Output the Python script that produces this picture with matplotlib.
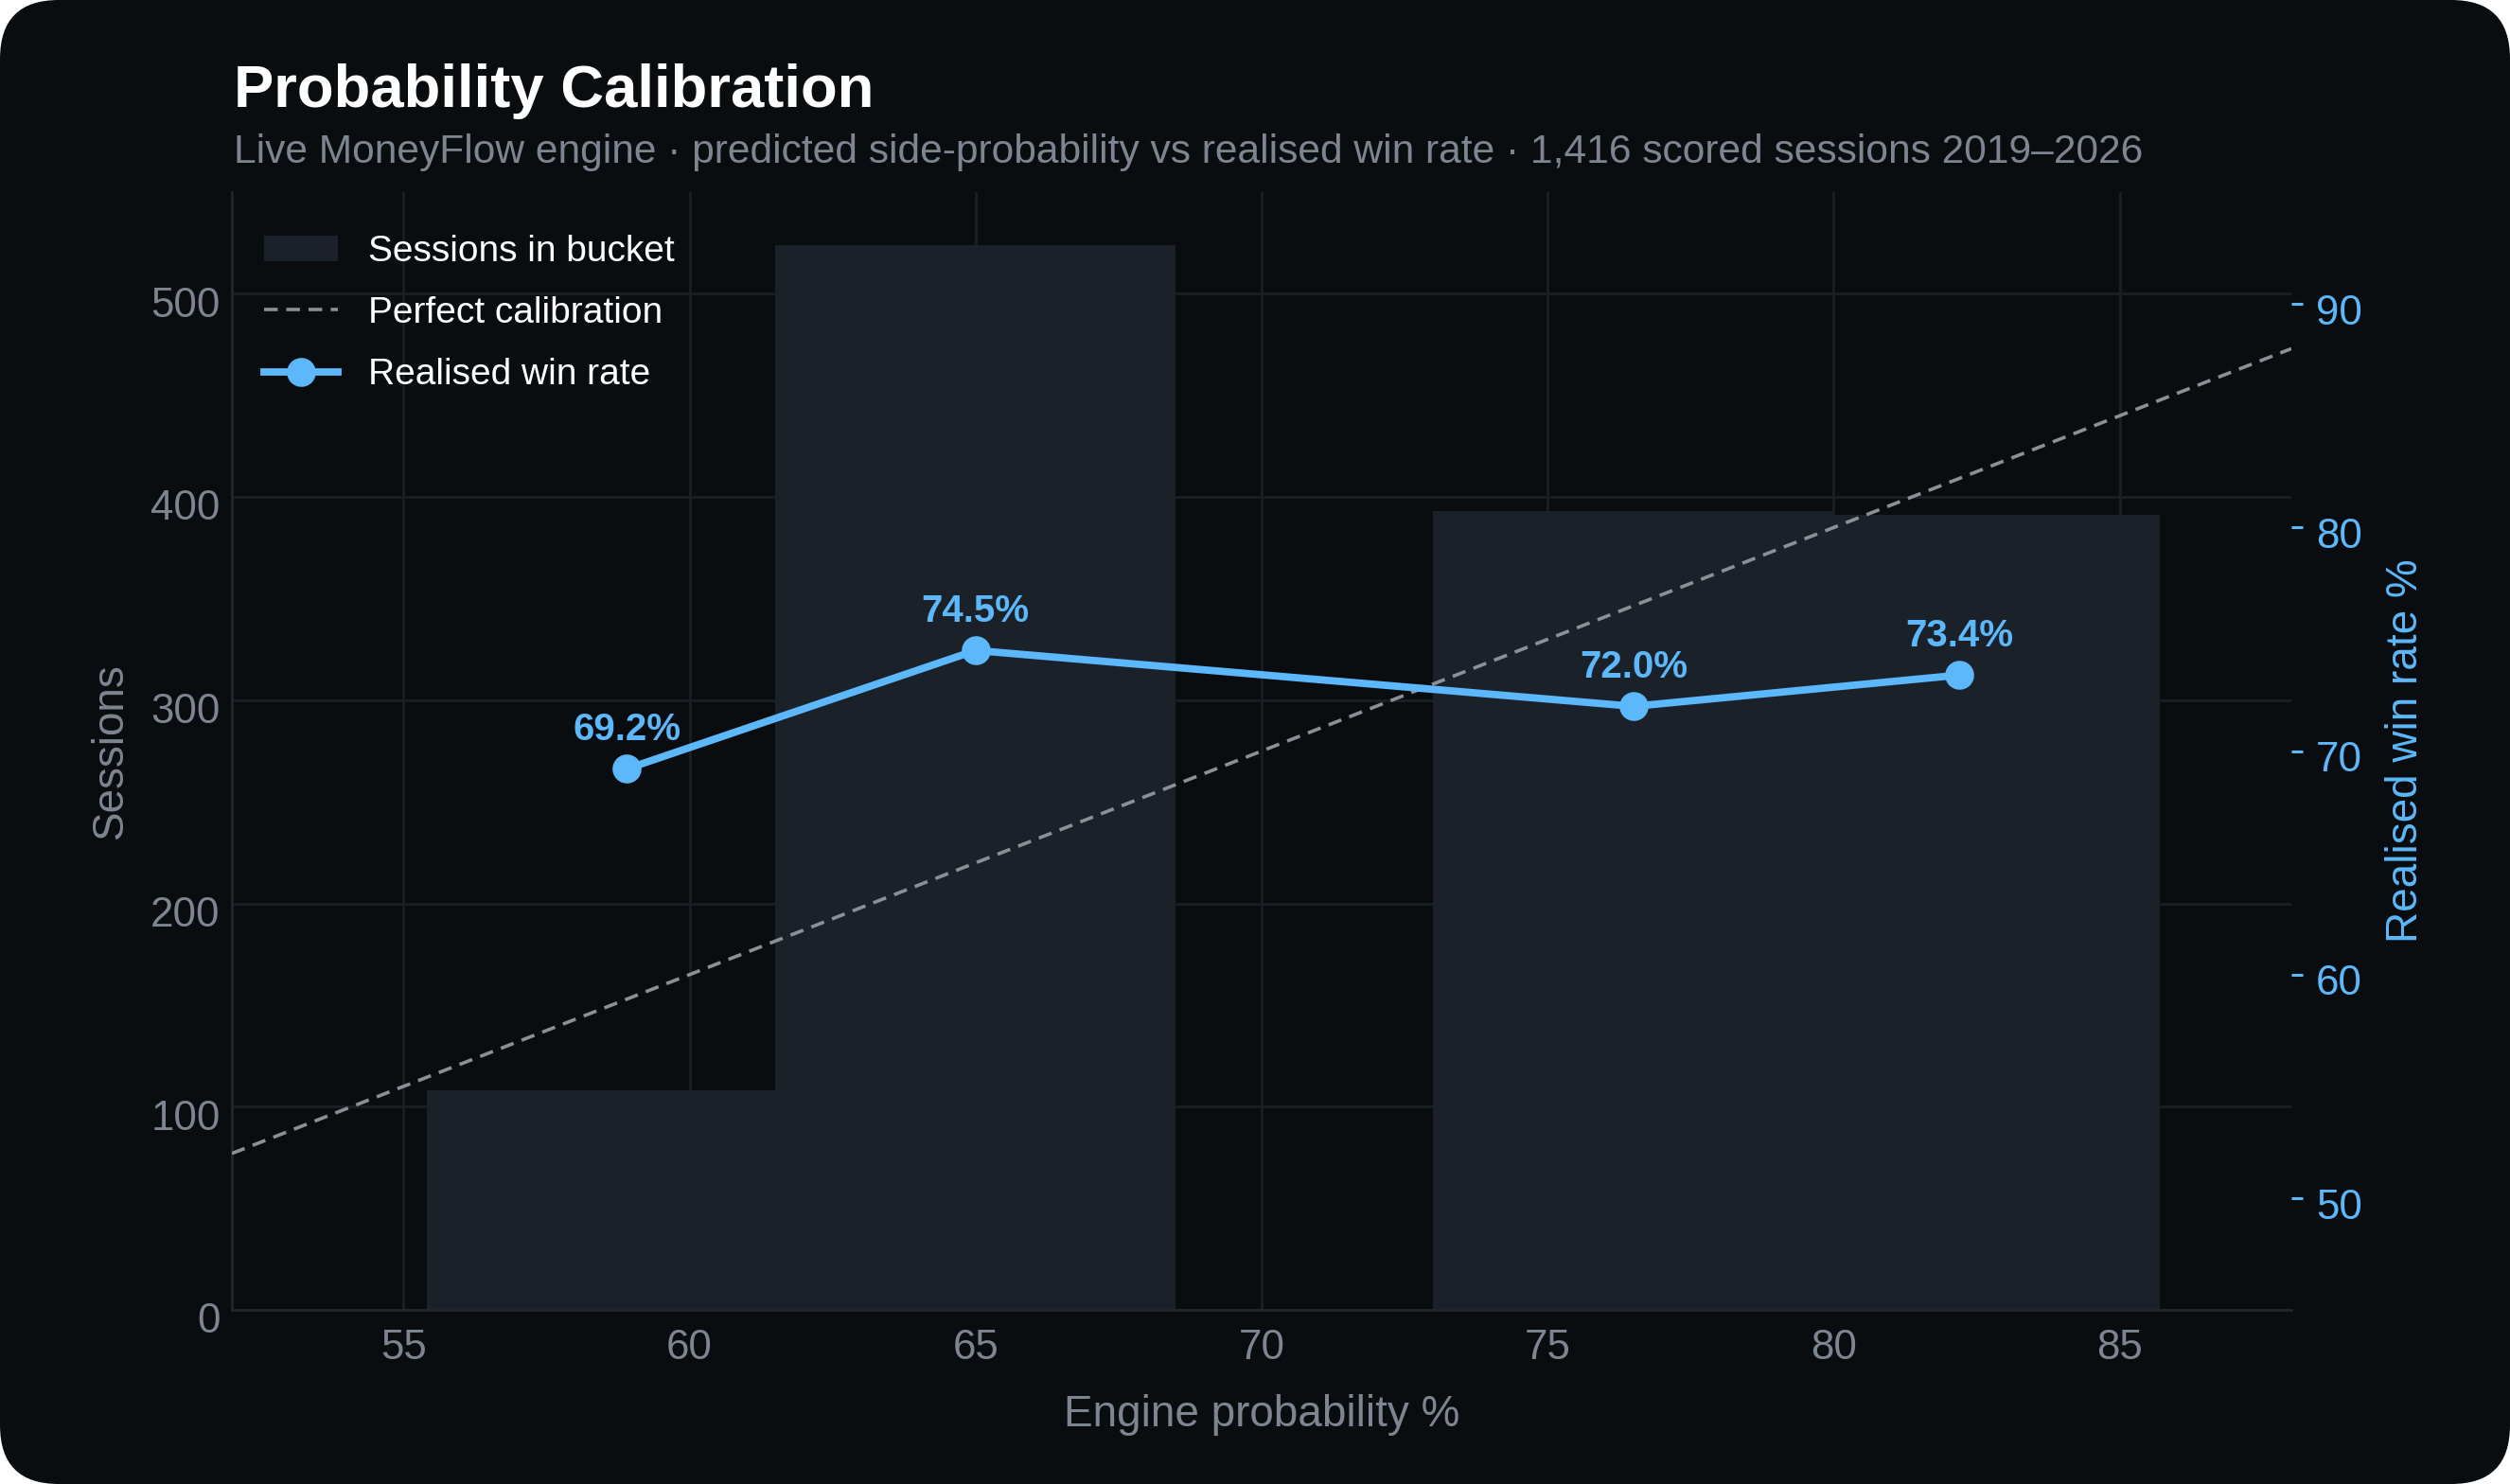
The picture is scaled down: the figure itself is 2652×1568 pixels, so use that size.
import matplotlib.pyplot as plt
from matplotlib.patches import FancyBboxPatch, Patch
from matplotlib.lines import Line2D
from matplotlib.transforms import IdentityTransform, ScaledTranslation

plt.rcParams['font.family'] = ['Liberation Sans', 'DejaVu Sans']

# bucket data (mean engine probability per bucket)
bucket_prob = [58.9, 65.0, 76.5, 82.2]
sessions = [108, 524, 393, 391]
win_rate = [69.2, 74.5, 72.0, 73.4]

x_ticks = [55, 60, 65, 70, 75, 80, 85]
left_ticks = [0, 100, 200, 300, 400, 500]
right_ticks = [50, 60, 70, 80, 90]

BG = '#0a0d10'
BAR = '#1b2129'
GRID = '#1a1f25'
SPINE = '#22272e'
MUTED = '#7d8590'
BLUE = '#5cb8fa'
DASH = '#8b9096'

fig = plt.figure(figsize=(13.26, 7.84), dpi=200, facecolor='white')
card = FancyBboxPatch((0, 0), 2652, 1568, boxstyle='round,pad=0,rounding_size=62',
                      transform=IdentityTransform(), facecolor=BG, edgecolor='none',
                      zorder=-10)
fig.patches.append(card)

ax = fig.add_axes([0.0924, 0.1173, 0.8205, 0.7532])
ax.set_facecolor(BG)
ax2 = ax.twinx()

# sessions per bucket
ax.bar(bucket_prob, sessions, width=7, color=BAR, zorder=2)
ax.set_axisbelow(True)
ax.grid(True, color=GRID, lw=1.0)
ax.set_xlim(52, 88)
ax.set_ylim(0, 550)
ax.set_xticks(x_ticks)
ax.set_yticks(left_ticks)
ax.tick_params(axis='both', length=0, colors=MUTED, labelsize=15.8)
ax.tick_params(axis='x', pad=7)
ax.tick_params(axis='y', pad=4.5)
for s in ['top', 'right']:
    ax.spines[s].set_visible(False)
for s in ['left', 'bottom']:
    ax.spines[s].set_color(SPINE)
    ax.spines[s].set_linewidth(1.0)

ax.set_xlabel('Engine probability %', fontsize=16.5, color=MUTED)
ax.xaxis.set_label_coords(0.5, -0.075)
ax.set_ylabel('Sessions', fontsize=16.5, color=MUTED)
ax.yaxis.set_label_coords(-0.0487, 0.5)

# calibration + realised win rate
ax2.plot([52, 88], [52, 88], color=DASH, lw=1.3, linestyle=(0, (4, 2.5)))
ax2.plot(bucket_prob, win_rate, color=BLUE, lw=2.8, marker='o', markersize=10)
for x, v in zip(bucket_prob, win_rate):
    ax2.annotate(f'{v:.1f}%', (x, v), xytext=(0, 11), textcoords='offset points',
                 ha='center', va='baseline', fontsize=14.5, fontweight='bold', color=BLUE)
ax2.set_ylim(45, 95)
ax2.set_yticks(right_ticks)
ax2.tick_params(axis='y', length=4.3, width=1.1, colors=BLUE, labelsize=15.8, pad=5)
for s in ax2.spines.values():
    s.set_visible(False)
ax2.set_ylabel('Realised win rate %', fontsize=16.5, color=BLUE)
ax2.yaxis.set_label_coords(1.0455, 0.5)

# tick labels sit a little below their gridlines in the original
for lab in ax.get_yticklabels():
    lab.set_transform(lab.get_transform() + ScaledTranslation(0, -3 / 72, fig.dpi_scale_trans))
for lab in ax2.get_yticklabels():
    lab.set_transform(lab.get_transform() + ScaledTranslation(0, -2 / 72, fig.dpi_scale_trans))

handles = [
    Patch(facecolor=BAR, edgecolor='none'),
    Line2D([], [], color=DASH, lw=1.3, linestyle=(0, (4, 2.5))),
    Line2D([], [], color=BLUE, lw=2.8, marker='o', markersize=10),
]
labels = ['Sessions in bucket', 'Perfect calibration', 'Realised win rate']
leg = ax2.legend(handles, labels, loc='upper left', bbox_to_anchor=(0.0155, 0.962),
                 frameon=False, fontsize=14, labelcolor='white', handlelength=2.0,
                 handletextpad=0.84, labelspacing=0.75, borderaxespad=0, borderpad=0)

fig.text(0.0931, 0.928, 'Probability Calibration', fontsize=22.8, fontweight='bold',
         color='white', va='baseline')
fig.text(0.0931, 0.8903,
         'Live MoneyFlow engine · predicted side-probability vs realised win rate · 1,416 scored sessions 2019–2026',
         fontsize=15.3, color=MUTED, va='baseline')

fig.savefig('out.png', dpi=200, facecolor='white')
